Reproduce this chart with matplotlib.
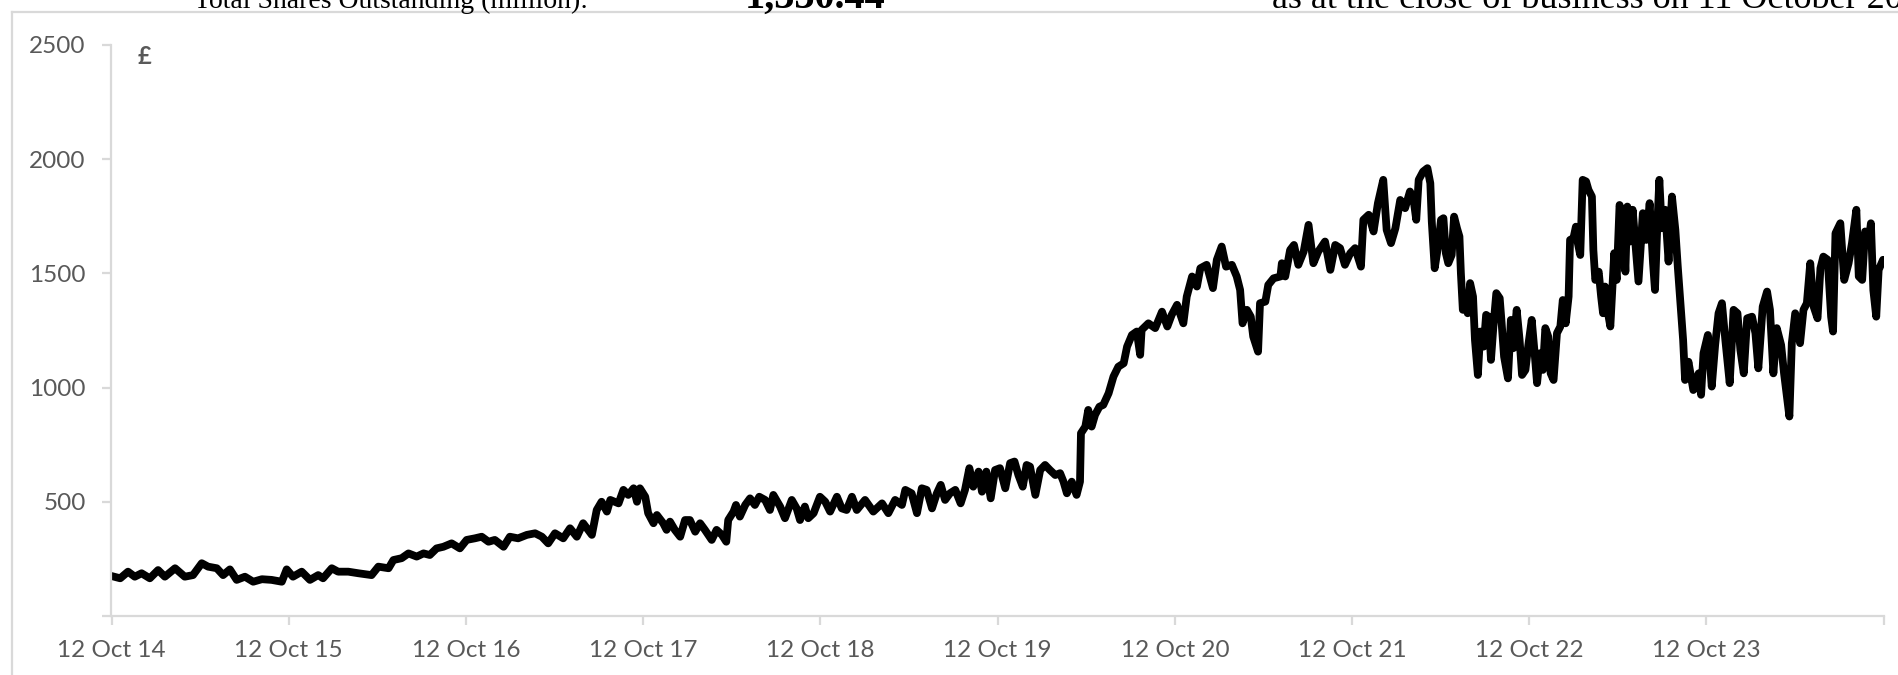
import matplotlib
matplotlib.use("Agg")
import matplotlib.pyplot as plt
from matplotlib.lines import Line2D
import pandas as pd

# ---- data -------------------------------------------------------------
start_date = "2014-10-12"
day_offsets = [
    0, 18, 34, 48, 62, 79, 96, 110, 131, 151, 168, 186, 199, 217, 230, 244,
    258, 275, 292, 310, 330, 351, 361, 374, 392, 409, 426, 436, 454, 467, 488,
    509, 536, 550, 571, 581, 598, 612, 629, 643,
    656, 670, 684, 701, 718, 732, 749, 763, 777, 790, 808, 821, 838, 856, 873,
    887, 900, 914, 931, 945, 959, 972, 990, 1000, 1010, 1021, 1028, 1045, 1055,
    1065, 1076, 1083, 1089, 1100, 1106, 1117, 1124, 1137, 1144, 1151, 1161,
    1172, 1182, 1192, 1203, 1213, 1223, 1237, 1247, 1258, 1267, 1271, 1282,
    1287, 1295, 1306, 1316, 1326, 1335,
    1347, 1357, 1364, 1378, 1388, 1402, 1412, 1419, 1429, 1436, 1447, 1460,
    1471, 1481, 1495, 1505, 1515, 1526, 1536, 1553, 1570, 1588, 1601, 1615,
    1629, 1636, 1649, 1660, 1670, 1680, 1691, 1701, 1709, 1718, 1728, 1739,
    1750, 1759, 1768, 1776, 1787, 1794, 1803, 1812, 1821, 1831, 1842, 1852,
    1861, 1869, 1878, 1886, 1893, 1904, 1914, 1924, 1934, 1945, 1955, 1962,
    1969, 1979, 1989, 1996, 1998, 2007, 2013, 2020, 2027, 2036,
    2044, 2055, 2065, 2075, 2086, 2093, 2103, 2113, 2120, 2123, 2137, 2151,
    2165, 2176, 2185, 2196, 2209, 2216, 2227, 2237, 2244, 2257, 2270, 2278,
    2288, 2297, 2309, 2319, 2326, 2331, 2340, 2348, 2353, 2363, 2367, 2378,
    2384, 2395, 2409, 2412, 2419, 2429, 2437, 2446, 2457, 2467, 2477, 2487,
    2501, 2512, 2522, 2532, 2542, 2553, 2563, 2575, 2580, 2591, 2601, 2610,
    2621, 2628, 2637, 2646, 2656, 2666,
    2676, 2683, 2689, 2694, 2703, 2712, 2718, 2721, 2727, 2735, 2740, 2745,
    2750, 2755, 2762, 2767, 2773, 2778, 2781, 2785, 2790, 2795, 2800, 2806,
    2810, 2816, 2821, 2828, 2833, 2838, 2843, 2848, 2854, 2861, 2865, 2870,
    2878, 2884, 2889, 2896, 2902, 2907, 2914, 2920, 2927, 2933, 2938, 2944,
    2950, 2955, 2961, 2966, 2972, 2979, 2986, 2991, 2997, 3003, 3006, 3013,
    3018, 3022, 3027, 3032, 3039, 3044, 3051, 3054, 3058, 3065, 3070, 3074,
    3078, 3083, 3089, 3093, 3097, 3102, 3108, 3115, 3120, 3124, 3130, 3135,
    3140, 3147,
    3156, 3163, 3170, 3177, 3181, 3186, 3190, 3195, 3202, 3209, 3216, 3223,
    3228, 3233, 3239, 3243, 3250, 3260, 3271, 3276, 3281, 3290, 3298, 3305,
    3312, 3319, 3326, 3335, 3343, 3351, 3357, 3364, 3371, 3381, 3388, 3394,
    3403, 3412, 3418, 3425, 3432, 3441, 3447, 3458, 3463, 3470, 3480, 3487,
    3494, 3501, 3508, 3516, 3522, 3528, 3537, 3544, 3548, 3553, 3563, 3571,
    3580, 3587, 3596, 3601, 3608, 3614, 3621, 3626, 3631, 3637, 3642, 3651,
]
share_price = [
    175, 165, 194, 172, 187, 165, 201, 172, 209, 172, 179, 231, 216, 209, 179,
    204, 158, 172, 150, 161, 158, 150, 204, 172, 194, 158, 179, 165, 209, 194,
    194, 187, 179, 216, 209, 245, 253, 274, 260, 274,
    267, 296, 303, 318, 296, 333, 340, 347, 325, 333, 303, 347, 340, 355, 362,
    347, 318, 362, 340, 384, 347, 406, 355, 464, 500, 457, 508, 493, 552, 530,
    559, 500, 559, 522, 450, 406, 442, 406, 377, 413, 377, 347, 420, 420, 369,
    406, 377, 333, 377, 355, 325, 420, 457, 486, 435, 486, 515, 486, 522,
    508, 464, 530, 479, 428, 508, 471, 420, 479, 428, 450, 522, 500, 457, 522,
    471, 464, 522, 464, 508, 457, 493, 450, 508, 486, 552, 537, 450, 559, 552,
    471, 537, 574, 508, 537, 552, 493, 552, 647, 566, 632, 544, 632, 515, 639,
    647, 559, 669, 676, 617, 566, 661, 654, 530, 639, 661, 639, 617, 625, 588,
    537, 588, 530, 588, 800, 829, 902, 829, 880, 916,
    924, 975, 1048, 1091, 1106, 1179, 1230, 1245, 1143, 1252, 1281, 1260,
    1332, 1267, 1318, 1362, 1281, 1398, 1486, 1442, 1522, 1537, 1435, 1559,
    1617, 1529, 1537, 1486, 1427, 1281, 1340, 1310, 1223, 1157, 1369, 1376,
    1449, 1478, 1486, 1544, 1486, 1602, 1624, 1537, 1595, 1712, 1544, 1595,
    1639, 1515, 1624, 1610, 1537, 1588, 1610, 1529, 1734, 1756, 1683, 1807,
    1909, 1690, 1632, 1697, 1821, 1785,
    1858, 1829, 1734, 1909, 1945, 1960, 1894, 1726, 1522, 1632, 1734, 1741,
    1588, 1544, 1580, 1748, 1697, 1661, 1500, 1340, 1391, 1325, 1457, 1398,
    1208, 1055, 1245, 1179, 1318, 1310, 1121, 1267, 1413, 1391, 1281, 1135,
    1040, 1296, 1172, 1340, 1208, 1055, 1077, 1186, 1296, 1150, 1019, 1150,
    1077, 1260, 1223, 1062, 1033, 1238, 1267, 1383, 1281, 1398, 1646, 1654,
    1704, 1632, 1580, 1909, 1902, 1865, 1836, 1602, 1471, 1507, 1398, 1325,
    1442, 1340, 1267, 1427, 1588, 1471, 1799, 1748, 1507, 1792, 1639, 1778,
    1646, 1464,
    1763, 1646, 1807, 1544, 1427, 1719, 1909, 1697, 1778, 1551, 1836, 1690,
    1529, 1383, 1208, 1033, 1113, 989, 1062, 968, 1150, 1230, 1004, 1186,
    1325, 1369, 1208, 1019, 1340, 1325, 1165, 1062, 1303, 1310, 1238, 1084,
    1354, 1420, 1340, 1062, 1260, 1186, 1062, 873, 1194, 1325, 1194, 1340,
    1369, 1544, 1354, 1303, 1522, 1573, 1559, 1310, 1245, 1675, 1719, 1471,
    1544, 1632, 1778, 1486, 1471, 1683, 1632, 1719, 1427, 1310, 1515, 1559,
]
y_ticks = [0, 500, 1000, 1500, 2000, 2500]
y_tick_labels = ["", "500", "1000", "1500", "2000", "2500"]
x_tick_dates = [f"{y}-10-12" for y in range(2014, 2025)]
x_tick_labels = [f"12 Oct {y % 100:02d}" for y in range(2014, 2024)] + [""]

header_left = "Total Shares Outstanding (million):"
header_mid = "1,330.44"
header_right = "as at the close of business on 11 October 2024"
unit_label = "£"

# ---- figure -----------------------------------------------------------
W, H = 1899, 675
DPI = 100
fig = plt.figure(figsize=(W / DPI, H / DPI), dpi=DPI)
fig.patch.set_facecolor("white")

GRID_GREY = "#d9d9d9"
TEXT_GREY = "#595959"

# outer frame of the chart area (left and top edges)
fig.add_artist(Line2D([12 / W, 12 / W], [0, 1 - 12 / H], transform=fig.transFigure,
                      color=GRID_GREY, lw=1.6))
fig.add_artist(Line2D([12 / W, 1], [1 - 12 / H, 1 - 12 / H], transform=fig.transFigure,
                      color=GRID_GREY, lw=1.6))

# header line above the chart (runs off the top of the canvas)
serif = "Liberation Serif"
base_y = 1 - 7.5 / H
fig.text(194 / W, base_y, header_left, family=serif, fontsize=20,
         ha="left", va="baseline", color="black")
fig.text(745 / W, base_y, header_mid, family=serif, fontsize=29,
         fontweight="bold", ha="left", va="baseline", color="black")
fig.text(1272 / W, base_y, header_right, family=serif, fontsize=26,
         ha="left", va="baseline", color="black")

ax_left, ax_right = 111.5 / W, 1884 / W
ax_bottom, ax_top = 1 - 616 / H, 1 - 44.8 / H
ax = fig.add_axes([ax_left, ax_bottom, ax_right - ax_left, ax_top - ax_bottom])

dates = pd.Timestamp(start_date) + pd.to_timedelta(day_offsets, unit="D")
ax.plot(dates, share_price, color="black", lw=5.6,
        solid_joinstyle="round", solid_capstyle="round")

ax.set_xlim(pd.Timestamp(x_tick_dates[0]), pd.Timestamp(x_tick_dates[-1]))
ax.set_ylim(0, 2500)

ax.set_yticks(y_ticks)
ax.set_yticklabels(y_tick_labels)
ax.set_xticks(pd.to_datetime(x_tick_dates))
ax.set_xticklabels(x_tick_labels)

for side in ("top", "right"):
    ax.spines[side].set_visible(False)
for side in ("left", "bottom"):
    ax.spines[side].set_color(GRID_GREY)
    ax.spines[side].set_linewidth(1.6)

tick_font = "Lato"
ax.tick_params(axis="y", direction="out", length=6.5, width=1.6, color=GRID_GREY,
               pad=12, labelsize=17.5, labelcolor=TEXT_GREY)
ax.tick_params(axis="x", direction="out", length=6.5, width=1.6, color=GRID_GREY,
               pad=11, labelsize=17.5, labelcolor=TEXT_GREY)
for lab in ax.get_xticklabels() + ax.get_yticklabels():
    lab.set_family(tick_font)

fig.text(144 / W, 1 - 57 / H, unit_label, family=tick_font, fontsize=17,
         fontweight="bold", color=TEXT_GREY, ha="center", va="center")

ax.set_facecolor("white")
fig.savefig("out.png", dpi=DPI, facecolor="white")
